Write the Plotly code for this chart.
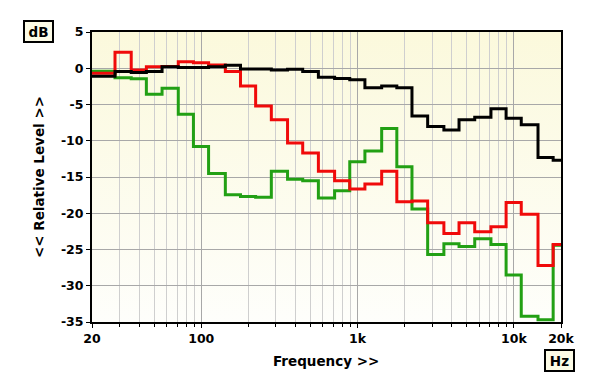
import plotly.graph_objects as go
import numpy as np
import base64

# 1/3-octave band centres (Hz); first band spans 20 Hz start
bands = [25, 31.5, 40, 50, 63, 80, 100, 125, 160, 200, 250, 315, 400, 500, 630,
         800, 1000, 1250, 1600, 2000, 2500, 3150, 4000, 5000, 6300, 8000, 10000,
         12500, 16000, 20000]

black = [-1.1, -0.45, -0.6, -0.45, 0.2, 0.1, 0.1, 0.2, 0.4, -0.1, -0.1, -0.25, -0.15,
         -0.45, -1.25, -1.4, -1.6, -2.7, -2.45, -2.7, -6.6, -8.05, -8.5, -7.1, -6.75,
         -5.6, -6.9, -7.8, -12.3, -12.7]
red = [-0.7, 2.2, -0.25, 0.2, 0.25, 0.9, 0.75, 0.45, -0.45, -2.45, -5.2, -7.1, -10.3,
       -11.7, -14.2, -15.5, -16.65, -15.95, -14.2, -18.4, -18.3, -21.3, -22.8, -21.3,
       -22.55, -21.85, -18.5, -20.15, -27.2, -24.3]
green = [-0.4, -1.3, -1.45, -3.6, -2.75, -6.35, -10.8, -14.5, -17.45, -17.7, -17.8,
         -14.2, -15.3, -15.5, -17.9, -16.9, -12.9, -11.4, -8.3, -13.6, -19.4, -25.7,
         -24.2, -24.6, -23.5, -24.3, -28.5, -34.2, -34.7, -24.4]

f_start, f_end = 20, 20000
x_ticks = [20, 100, 1000, 10000, 20000]
x_ticktext = ["20", "100", "1k", "10k", "20k"]
y_ticks = [5, 0, -5, -10, -15, -20, -25, -30, -35]

# band lower edges, first band starts at f_start
edges = [f_start] + [b * 2 ** (-1 / 6) for b in bands[1:]]
xs = edges + [f_end]

def stepy(vals):
    return list(vals) + [vals[-1]]

fig = go.Figure()
for vals, col in [(green, "#22a014"), (red, "#f00a0a"), (black, "#000000")]:
    fig.add_trace(go.Scatter(x=xs, y=stepy(vals), mode="lines",
                             line=dict(color=col, width=3, shape="hv"),
                             showlegend=False, hoverinfo="skip"))

minor_vals = []
for dec in [10, 100, 1000, 10000]:
    for m in range(2, 10):
        v = dec * m
        if f_start < v < f_end and v not in x_ticks:
            minor_vals.append(v)

FAM = "DejaVu Sans, sans-serif"
font_t = dict(family=FAM, size=13.5, color="black", weight="bold")
font_tick = dict(family=FAM, size=12.5, color="black", weight="bold")

svg = ('<svg xmlns="http://www.w3.org/2000/svg" width="100" height="100" preserveAspectRatio="none">'
       '<defs><linearGradient id="g" x1="0" y1="0" x2="0" y2="1">'
       '<stop offset="0" stop-color="#fbf9dc"/><stop offset="1" stop-color="#fefefb"/>'
       '</linearGradient></defs><rect width="100" height="100" fill="url(#g)"/></svg>')
bg_src = "data:image/svg+xml;base64," + base64.b64encode(svg.encode()).decode()

box = dict(showarrow=False, font=font_t, bgcolor="#fcfbe6", bordercolor="black",
           borderwidth=2, borderpad=1, width=25, height=17,
           xanchor="center", yanchor="middle", xref="paper", yref="paper")

fig.update_layout(
    width=600, height=387,
    margin=dict(l=92, r=39, t=32, b=65),
    paper_bgcolor="white",
    plot_bgcolor="rgba(0,0,0,0)",
    images=[dict(source=bg_src, xref="paper", yref="paper", x=0, y=1, sizex=1, sizey=1,
                 xanchor="left", yanchor="top", sizing="stretch", layer="below")],
    xaxis=dict(type="log", range=[np.log10(f_start), np.log10(f_end)],
               tickmode="array", tickvals=x_ticks, ticktext=x_ticktext,
               showgrid=True, gridcolor="#a8a8a8", gridwidth=1,
               ticks="outside", ticklen=4, tickcolor="black", tickwidth=1,
               showline=True, linecolor="black", linewidth=2, mirror=True,
               tickfont=font_tick,
               minor=dict(tickmode="array", tickvals=minor_vals, showgrid=True,
                          gridcolor="#cfcfcf", gridwidth=1, ticks="outside",
                          ticklen=3, tickcolor="black"),
               zeroline=False),
    yaxis=dict(range=[-35, 5], tickmode="array", tickvals=y_ticks,
               ticktext=[str(v) if v >= 0 else "-" + str(-v) for v in y_ticks],
               showgrid=True, gridcolor="#a8a8a8", gridwidth=1,
               ticks="outside", ticklen=4, tickcolor="black",
               showline=True, linecolor="black", linewidth=2, mirror=True,
               tickfont=font_tick,
               zeroline=False),
    annotations=[
        dict(box, text="dB", x=-0.114, y=1.003),
        dict(box, text="Hz", x=0.997, y=-0.133),
        dict(text="Frequency >>", xref="paper", yref="paper", x=0.499, y=-0.133,
             showarrow=False, font=font_t, xanchor="center", yanchor="middle"),
        dict(text="<< Relative Level >>", xref="paper", yref="paper", x=-0.113, y=0.5,
             showarrow=False, font=font_t, textangle=-90, xanchor="center", yanchor="middle"),
    ],
)

fig.write_html("out.html")
